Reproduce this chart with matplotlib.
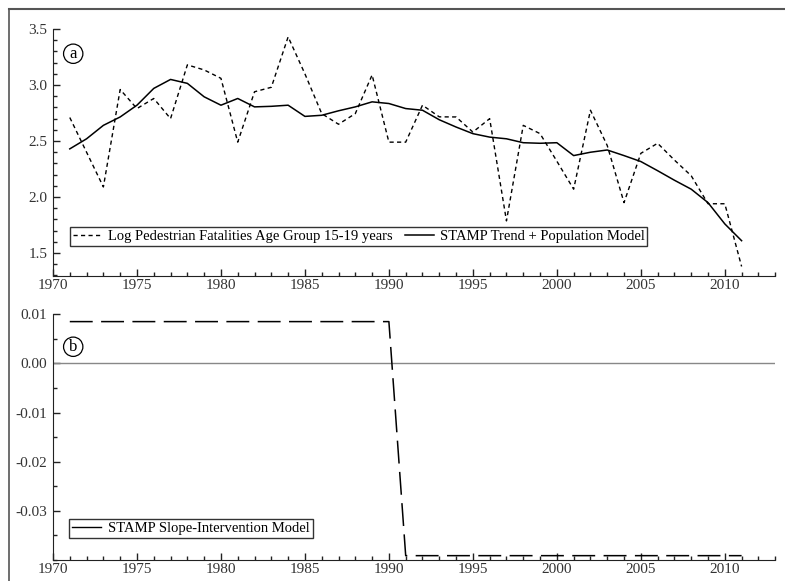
"""
Pedestrian fatalities 15-19 years: STAMP trend and slope intervention
"""

import matplotlib
matplotlib.use('Agg')
import matplotlib.pyplot as plt
from matplotlib.lines import Line2D
from matplotlib.ticker import MultipleLocator, FormatStrFormatter

plt.rcParams['font.family'] = ['Liberation Serif', 'DejaVu Serif']
plt.rcParams['axes.unicode_minus'] = False

# Data
years = list(range(1971, 2012))
log_fatalities = [2.71, 2.40, 2.09, 2.96, 2.79, 2.88, 2.70, 3.18, 3.135, 3.06,
                  2.49, 2.94, 2.98, 3.43, 3.10, 2.745, 2.65, 2.745, 3.09, 2.49,
                  2.49, 2.82, 2.716, 2.715, 2.58, 2.70, 1.787, 2.64, 2.566, 2.32,
                  2.07, 2.775, 2.46, 1.95, 2.39, 2.48, 2.33, 2.19, 1.94, 1.94,
                  1.38]
trend_model = [2.43, 2.52, 2.64, 2.715, 2.82, 2.97, 3.05, 3.015, 2.895, 2.82,
               2.88, 2.805, 2.81, 2.82, 2.72, 2.73, 2.77, 2.805, 2.85, 2.835,
               2.79, 2.775, 2.69, 2.625, 2.566, 2.535, 2.52, 2.485, 2.48, 2.485,
               2.37, 2.40, 2.42, 2.37, 2.317, 2.235, 2.15, 2.07, 1.95, 1.76,
               1.61]
slope_years = list(range(1971, 2012))
slope_model = [0.0085] * 20 + [-0.0391] * 21
top_yticks = [1.5, 2.0, 2.5, 3.0, 3.5]
bottom_yticks = [-0.03, -0.02, -0.01, 0.0, 0.01]

fig = plt.figure(figsize=(7.85, 5.81), dpi=100)
ax1 = fig.add_axes([0.0675, 0.525, 0.920, 0.425])
ax2 = fig.add_axes([0.0675, 0.036, 0.920, 0.424])

# Panel (a)
ax1.plot(years, log_fatalities, color='black', lw=1.0, dashes=(3, 2.4),
         label='Log Pedestrian Fatalities Age Group 15-19 years')
ax1.plot(years, trend_model, color='black', lw=1.1,
         label='STAMP Trend + Population Model')
ax1.set_ylim(1.295, 3.5)
ax1.set_yticks(top_yticks)
ax1.yaxis.set_minor_locator(MultipleLocator(0.1))
ax1.yaxis.set_major_formatter(FormatStrFormatter('%.1f'))
ax1.legend(loc='lower left', bbox_to_anchor=(0.024, 0.12), ncol=2,
           frameon=True, fancybox=False, edgecolor='black', fontsize=10.5,
           handlelength=2.0, columnspacing=0.8, handletextpad=0.4,
           borderpad=0.2, borderaxespad=0)
ax1.text(0.028, 0.90, 'a', transform=ax1.transAxes, fontsize=12,
         ha='center', va='center',
         bbox=dict(boxstyle='circle,pad=0.1', fc='none', ec='black', lw=0.9))

# Panel (b)
ax2.axhline(0, color='#888888', lw=1.0)
ax2.plot(slope_years, slope_model, color='black', lw=1.1, dashes=(15, 5.5))
ax2.set_ylim(-0.040, 0.0101)
ax2.set_yticks(bottom_yticks)
ax2.yaxis.set_minor_locator(MultipleLocator(0.005))
ax2.yaxis.set_major_formatter(FormatStrFormatter('%.2f'))
ax2.legend(handles=[Line2D([], [], color='black', lw=1.0)],
           labels=['STAMP Slope-Intervention Model'],
           loc='lower left', bbox_to_anchor=(0.022, 0.09),
           frameon=True, fancybox=False, edgecolor='black', fontsize=10.5,
           handlelength=2.0, handletextpad=0.5, borderpad=0.2,
           borderaxespad=0)
ax2.text(0.028, 0.866, 'b', transform=ax2.transAxes, fontsize=12,
         ha='center', va='center',
         bbox=dict(boxstyle='circle,pad=0.1', fc='none', ec='black', lw=0.9))

for ax in (ax1, ax2):
    ax.set_xlim(1970, 2013)
    ax.xaxis.set_major_locator(MultipleLocator(5))
    ax.xaxis.set_minor_locator(MultipleLocator(1))
    ax.spines['top'].set_visible(False)
    ax.spines['right'].set_visible(False)
    ax.spines['left'].set_color('#222222')
    ax.spines['bottom'].set_color('#222222')
    ax.tick_params(which='major', direction='in', length=5, width=1,
                   labelsize=11, labelcolor='#333333', color='#222222')
    ax.tick_params(which='minor', direction='in', length=3, width=1,
                   color='#222222')
    ax.tick_params(axis='x', pad=2)
    ax.tick_params(axis='y', pad=4)

# Outer frame (left and top)
fx = 8.5 / 785
fy = 1 - 9 / 581
fig.add_artist(Line2D([fx, fx], [0, fy], transform=fig.transFigure,
                      color='#555555', lw=1.2))
fig.add_artist(Line2D([fx, 1], [fy, fy], transform=fig.transFigure,
                      color='#555555', lw=1.5))

fig.savefig('out.png', dpi=100)
